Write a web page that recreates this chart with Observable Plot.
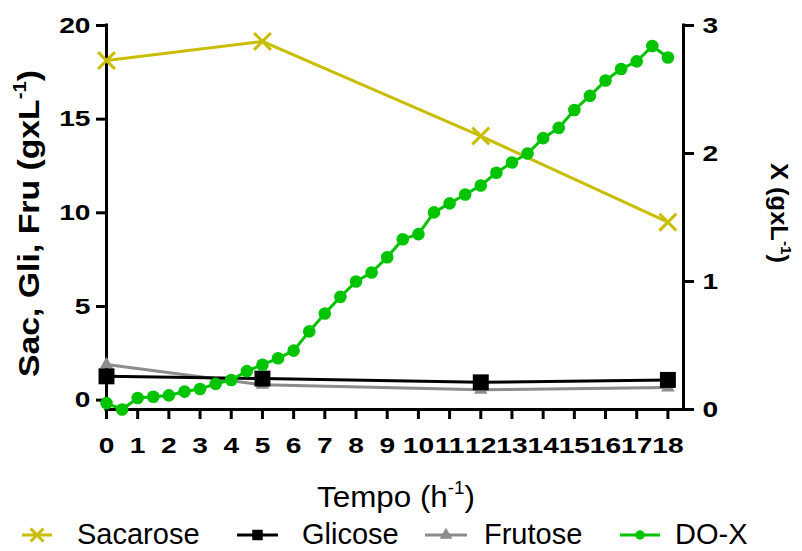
<!DOCTYPE html>
<html><head><meta charset="utf-8">
<script src="https://cdn.jsdelivr.net/npm/d3@7"></script>
<script src="https://cdn.jsdelivr.net/npm/@observablehq/plot@0.6"></script>
<style>
body{margin:0;background:#fff}
#chart{width:802px;height:551px;overflow:hidden}
#chart svg{display:block}
</style>
</head><body><div id="chart"></div>
<script>
// ---- data ----
const hours = [0, 5, 12, 18];
const sacarose = [18.13, 19.15, 14.1, 9.5];
const glicose = [1.27, 1.15, 0.95, 1.08];
const frutose = [1.9, 0.82, 0.55, 0.67];
const doTime = [0,0.5,1,1.5,2,2.5,3,3.5,4,4.5,5,5.5,6,6.5,7,7.5,8,8.5,9,9.5,10,10.5,11,11.5,12,12.5,13,13.5,14,14.5,15,15.5,16,16.5,17,17.5,18];
const doX = [0.05,0.0,0.09,0.10,0.11,0.14,0.16,0.20,0.23,0.30,0.35,0.40,0.46,0.61,0.75,0.88,1.00,1.07,1.19,1.33,1.37,1.54,1.61,1.68,1.75,1.85,1.93,2.00,2.12,2.20,2.34,2.45,2.57,2.66,2.72,2.84,2.75];
const xTicks = [0,1,2,3,4,5,6,7,8,9,10,11,12,13,14,15,16,17,18];
const leftTicks = [0, 5, 10, 15, 20];
const rightTicks = [0, 1, 2, 3];
const seriesNames = ["Sacarose", "Glicose", "Frutose", "DO-X"];

// ---- styles ----
const SAC = "#c9bd00", GLI = "#000000", FRU = "#8c8c8c", DOX = "#00c400";
const FONT = "'Liberation Sans', Arial, Helvetica, sans-serif";
const W = 802, H = 551;
const LEFT_DOMAIN = [-0.5, 20], RIGHT_MAX = 3;
// right axis (X, g/L) mapped onto the left scale
const toLeft = v => LEFT_DOMAIN[0] + v * (LEFT_DOMAIN[1] - LEFT_DOMAIN[0]) / RIGHT_MAX;

const rows = (ts, vs) => ts.map((t, i) => ({t, v: vs[i]}));
const sacRows = rows(hours, sacarose);
const gliRows = rows(hours, glicose);
const fruRows = rows(hours, frutose);
const doRows = doTime.map((t, i) => ({t, v: toLeft(doX[i])}));
const rightMapped = rightTicks.map(toLeft);

const chart = Plot.plot({
  width: W, height: H,
  marginLeft: 106, marginRight: W - 683, marginTop: 25, marginBottom: H - 409,
  x: {domain: [0, 18.5]},
  y: {domain: LEFT_DOMAIN},
  style: {fontFamily: FONT, fontSize: "22px", fontWeight: "bold", color: "#000", background: "#fff"},
  marks: [
    Plot.axisX(xTicks, {tickSize: 10, tickPadding: 18, strokeWidth: 3, label: null, fontSize: 22, fontWeight: "bold"}),
    Plot.axisY(leftTicks, {anchor: "left", tickSize: 10, tickPadding: 6, strokeWidth: 3, label: null, fontSize: 22, fontWeight: "bold"}),
    Plot.axisY(rightMapped, {anchor: "right", tickSize: 10, tickPadding: 9, strokeWidth: 3, label: null, fontSize: 22, fontWeight: "bold",
      tickFormat: d => String(rightTicks[rightMapped.indexOf(d)])}),
    Plot.ruleX([0], {strokeWidth: 3, strokeLinecap: "square"}),
    Plot.ruleX([18.5], {strokeWidth: 3, strokeLinecap: "square"}),
    Plot.ruleY([LEFT_DOMAIN[0]], {strokeWidth: 3, strokeLinecap: "square"}),
    // Sacarose
    Plot.line(sacRows, {x: "t", y: "v", stroke: SAC, strokeWidth: 3}),
    Plot.dot(sacRows, {x: "t", y: "v", symbol: "times", r: 7.7, stroke: SAC, strokeWidth: 3}),
    // Frutose
    Plot.line(fruRows, {x: "t", y: "v", stroke: FRU, strokeWidth: 3}),
    Plot.dot(fruRows, {x: "t", y: "v", symbol: "triangle", r: 5, fill: FRU, stroke: null}),
    // Glicose
    Plot.line(gliRows, {x: "t", y: "v", stroke: GLI, strokeWidth: 3}),
    Plot.dot(gliRows, {x: "t", y: "v", symbol: "square", r: 9, fill: GLI, stroke: null}),
    // DO-X (right axis)
    Plot.line(doRows, {x: "t", y: "v", stroke: DOX, strokeWidth: 3}),
    Plot.dot(doRows, {x: "t", y: "v", r: 6.3, fill: DOX, stroke: null})
  ]
});
document.getElementById("chart").append(chart);

const svg = d3.select(chart);
// widen tick labels horizontally (reference uses wide digits)
svg.selectAll('g[aria-label$="tick label"] text').each(function () {
  const el = d3.select(this);
  const tr = el.attr("transform");
  if (tr) el.attr("transform", tr + " scale(1.28,1)");
  else {
    const x = +el.attr("x") || 0, y = +el.attr("y") || 0;
    el.attr("x", null).attr("y", null).attr("transform", `translate(${x},${y}) scale(1.28,1)`);
  }
});

function title(x, y, rot, size, weight, parts, target) {
  const t = svg.append("text").attr("text-anchor", "middle").attr("font-size", size)
    .attr("font-weight", weight).attr("fill", "#000").attr("font-family", FONT);
  const up = size * 0.42;
  parts.forEach(p => {
    if (p.sup) t.append("tspan").attr("dy", -up).attr("font-size", size * 0.6).text(p.s);
    else t.append("tspan").attr("dy", p.back ? up : 0).text(p.s);
  });
  const w = t.node().getBBox().width;
  const s = target ? target / w : 1;
  t.attr("transform", `translate(${x},${y}) rotate(${rot}) scale(${s},1)`);
}
title(39, 223.5, -90, 30, "bold", [{s: "Sac, Gli, Fru (gxL"}, {s: "-1", sup: true}, {s: ")", back: true}], 307);
title(771, 213, 90, 24, "bold", [{s: "X (gxL"}, {s: "-1", sup: true}, {s: ")", back: true}], 100);
title(396, 507, 0, 30, "normal", [{s: "Tempo (h"}, {s: "-1", sup: true}, {s: ")", back: true}], 158);

// ---- legend (inside the same svg, below the axis title) ----
const legend = svg.append("g").attr("aria-label", "legend");
const items = [
  {name: seriesNames[0], color: SAC, sym: d3.symbolTimes, size: 110, filled: false, x1: 22, x2: 52, tx: 77},
  {name: seriesNames[1], color: GLI, sym: d3.symbolSquare, size: 110, filled: true, x1: 237, x2: 278, tx: 302},
  {name: seriesNames[2], color: FRU, sym: d3.symbolTriangle, size: 70, filled: true, x1: 425, x2: 467, tx: 484},
  {name: seriesNames[3], color: DOX, sym: d3.symbolCircle, size: 70, filled: true, x1: 620, x2: 660, tx: 675}
];
const cy = 535;
items.forEach(it => {
  legend.append("line").attr("x1", it.x1).attr("x2", it.x2).attr("y1", cy).attr("y2", cy)
    .attr("stroke", it.color).attr("stroke-width", 3);
  legend.append("path").attr("d", d3.symbol(it.sym, it.size)())
    .attr("transform", `translate(${(it.x1 + it.x2) / 2},${cy})`)
    .attr("fill", it.filled ? it.color : "none").attr("stroke", it.filled ? "none" : it.color).attr("stroke-width", 3);
  legend.append("text").attr("x", it.tx).attr("y", 544).attr("text-anchor", "start")
    .attr("font-family", FONT).attr("font-size", 29)
    .attr("font-weight", "normal").attr("fill", "#000").text(it.name);
});
</script>
</body></html>
